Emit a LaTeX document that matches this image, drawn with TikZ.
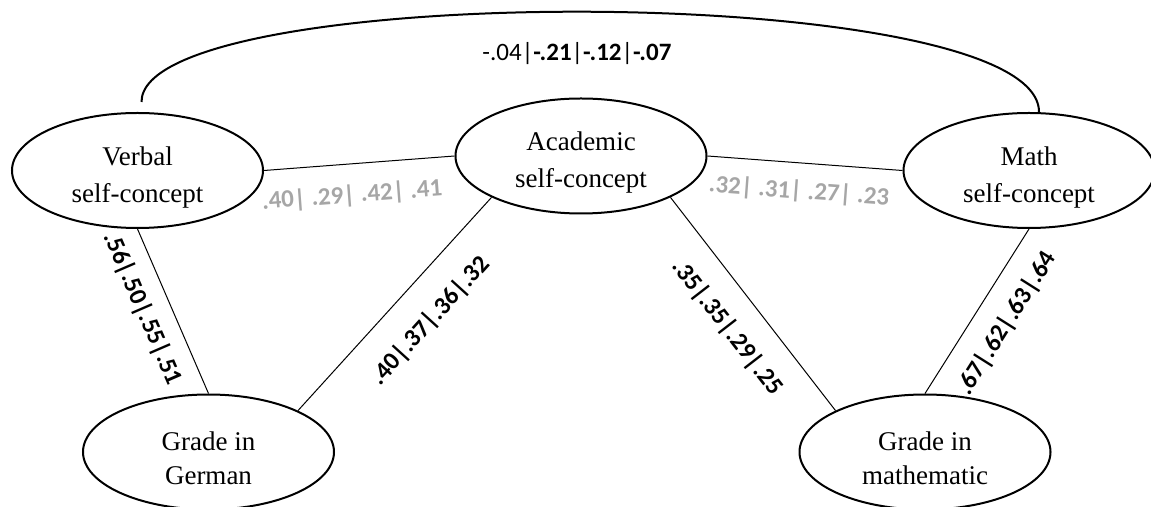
\documentclass[tikz,border=0pt]{standalone}
\usepackage{fontspec}
\setmainfont{Liberation Serif}
\newfontfamily\calfont{Carlito}
\usetikzlibrary{shapes.geometric}
\definecolor{lightnum}{RGB}{166,166,166}
\tikzset{
	construct/.style={ellipse, draw, line width=1pt, minimum width=125.5pt, minimum height=57.5pt, inner sep=0pt},
	ctext/.style={align=center, inner sep=0pt, font=\fontsize{13.5}{18.5}\selectfont},
	gtext/.style={ctext, font=\fontsize{13.5}{17}\selectfont},
	link/.style={line width=0.5pt},
	coef/.style={font=\calfont\fontsize{12.5}{15}\selectfont\bfseries, inner sep=0pt, sloped},
	coefgray/.style={coef, text=lightnum},
}
\begin{document}
\begin{tikzpicture}[x=0.5pt, y=-0.5pt]
			\useasboundingbox (0,0) rectangle (1151,507);
			\node[construct] (verbal) at (137.5,170.5) {};
			\node[construct] (academic) at (581,156) {};
			\node[construct] (mathsc) at (1029,170.5) {};
			\node[construct] (german) at (208.5,452) {};
			\node[construct] (mathgr) at (925,452) {};
			\node[ctext] (verbal-t) at ([yshift=-3.3pt]verbal.center) {Verbal\\self-concept};
			\node[ctext] (academic-t) at ([yshift=-3.3pt]academic.center) {Academic\\self-concept};
			\node[ctext] (mathsc-t) at ([yshift=-3.3pt]mathsc.center) {Math\\self-concept};
			\node[gtext] (german-t) at ([yshift=-3.3pt]german.center) {Grade in\\German};
			\node[gtext] (mathgr-t) at ([yshift=-3.3pt]mathgr.center) {Grade in\\mathematic};
			% correlation between the two domain self-concepts
			\draw[line width=1pt] ([xshift=2pt,yshift=5pt]verbal.north) .. controls (141,-20) and (1039,-20) .. ([xshift=5pt]mathsc.north);
			\node[font=\calfont\fontsize{12.5}{15}\selectfont, inner sep=0pt] (corr) at (577,54) {-.04|\textbf{-.21}|\textbf{-.12}|\textbf{-.07}};
			\draw[link] (verbal.east) -- node[coefgray, pos=.45, below=10pt] {.40| .29| .42| .41} (academic.west);
			\draw[link] (academic.east) -- node[coefgray, pos=.48, below=8.5pt] {.32| .31| .27| .23} (mathsc.west);
			\draw[link] (verbal.south) -- node[coef, pos=.42, below=7.5pt] {.56|.50|.55|.51} (german.north);
			\draw[link] (academic.south west) -- node[coef, pos=.46, below=13pt] {.40|.37|.36|.32} (german.north east);
			\draw[link] (academic.south east) -- node[coef, pos=.51, below=11.5pt] {.35|.35|.29|.25} (mathgr.north west);
			\draw[link] (mathsc.south) -- node[coef, pos=.47, below=10pt] {.67|.62|.63|.64} (mathgr.north);
		\end{tikzpicture}
\end{document}
